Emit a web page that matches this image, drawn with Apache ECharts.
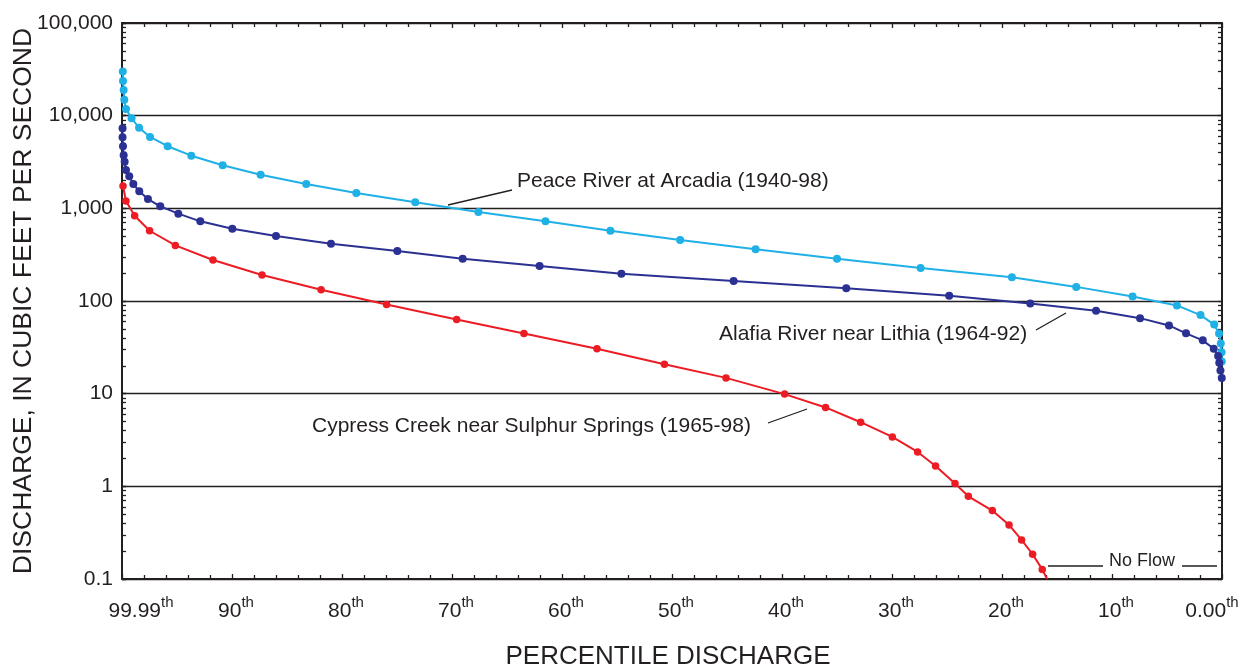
<!DOCTYPE html>
<html>
<head>
<meta charset="utf-8">
<script src="https://cdn.jsdelivr.net/npm/echarts@6/dist/echarts.min.js"></script>
<style>
html,body{margin:0;padding:0;background:#fff;}
#chart{width:1250px;height:669px;}
</style>
</head>
<body>
<div id="chart"></div>
<script>
// ---- Data ----
var xTickValues = [0, 10, 20, 30, 40, 50, 60, 70, 80, 90, 100];
var yTickLabels = ['0.1', '1', '10', '100', '1,000', '10,000', '100,000'];

var peacePct = [99.93, 99.91, 99.85, 99.79, 99.64, 99.13, 98.45, 97.45, 95.85, 93.7, 90.85, 87.4, 83.25, 78.7, 73.34, 67.6, 61.5, 55.6, 49.26, 42.4, 35.0, 27.4, 19.1, 13.25, 8.13, 4.1, 1.95, 0.71, 0.27, 0.11, 0.04, 0.02];
var peaceQ = [29900, 23700, 18970, 14890, 11810, 9370, 7410, 5890, 4680, 3700, 2915, 2305, 1830, 1462, 1161, 912, 724, 573, 455, 361, 286, 227, 180, 142, 112, 89.6, 70.4, 55.6, 44.7, 34.8, 27.9, 22.2];

var alafiaPct = [99.95, 99.95, 99.91, 99.85, 99.76, 99.64, 99.34, 98.97, 98.43, 97.64, 96.52, 94.88, 92.88, 89.97, 86.0, 81.0, 74.97, 69.03, 62.04, 54.6, 44.4, 34.16, 24.8, 17.43, 11.45, 7.45, 4.82, 3.27, 1.75, 0.75, 0.35, 0.25, 0.14, 0.02];
var alafiaQ = [7310, 5850, 4680, 3730, 3185, 2592, 2218, 1830, 1527, 1260, 1051, 876, 724, 603, 503, 415, 346, 286, 238, 197, 164, 137, 114, 94.2, 78.4, 65.3, 54.5, 44.8, 37.6, 30.5, 25.5, 21.5, 17.8, 14.8];

var cypressPct = [99.91, 99.64, 98.85, 97.49, 95.15, 91.73, 87.27, 81.9, 75.95, 69.58, 63.46, 56.82, 50.69, 45.09, 39.76, 36.04, 32.85, 29.97, 27.67, 26.04, 24.27, 23.06, 20.88, 19.36, 18.22, 17.22, 16.34, 15.9];
var cypressQ = [1742, 1200, 832, 573, 398, 277, 191, 132, 91.9, 63.2, 44.7, 30.5, 20.8, 14.8, 9.89, 7.10, 4.92, 3.41, 2.35, 1.66, 1.07, 0.781, 0.547, 0.383, 0.264, 0.185, 0.127, 0.1];

var seriesNames = ['Peace River at Arcadia (1940-98)', 'Alafia River near Lithia (1964-92)', 'Cypress Creek near Sulphur Springs (1965-98)'];

// ---- helpers ----
function zip(a, b) { return a.map(function (v, i) { return [v, b[i]]; }); }
var yMinorTicks = [];
for (var e = -1; e <= 4; e++) {
  for (var m = 1; m <= 9; m++) yMinorTicks.push(Number((m * Math.pow(10, e)).toPrecision(6)));
}
yMinorTicks.push(100000);

var FONT = '"Liberation Sans", Arial, Helvetica, sans-serif';
var INK = '#231f20';

var cypressData = zip(cypressPct, cypressQ).map(function (d, i, arr) {
  return i === arr.length - 1 ? { value: d, symbol: 'none' } : d;
});

var chart = echarts.init(document.getElementById('chart'), null, { renderer: 'canvas' });

var xCommon = {
  type: 'value', min: 0, max: 100, interval: 10, inverse: true,
  axisLine: { show: true, onZero: false, lineStyle: { color: INK, width: 2 } },
  axisTick: { show: true, inside: true, length: 5, lineStyle: { color: INK, width: 1.3 } },
  minorTick: { show: true, splitNumber: 5, length: 4, lineStyle: { color: INK, width: 1.3 } },
  splitLine: { show: false }
};
var yCommon = {
  type: 'log', logBase: 10, min: 0.1, max: 100000
};

var option = {
  backgroundColor: '#ffffff',
  animation: false,
  grid: { left: 122, right: 28, top: 23, bottom: 90, containLabel: false, outerBoundsMode: 'none' },
  xAxis: [
    Object.assign({}, xCommon, {
      position: 'bottom',
      name: 'PERCENTILE DISCHARGE',
      nameLocation: 'middle',
      nameGap: 65,
      nameTextStyle: { fontFamily: FONT, fontSize: 26, color: INK, padding: [0, 8, 0, 0] },
      axisLabel: {
        show: true, margin: 16, fontFamily: FONT, color: INK,
        customValues: xTickValues,
        formatter: function (v) {
          if (v === 100) return '{s|}{n|99.99}{t|th}';
          if (v === 0) return '{n|0.00}{t|th}{e|}';
          return '{p|}{n|' + v + '}{t|th}';
        },
        rich: {
          n: { fontFamily: FONT, fontSize: 21, color: INK, lineHeight: 27, verticalAlign: 'bottom' },
          t: { fontFamily: FONT, fontSize: 15, color: INK, lineHeight: 15, verticalAlign: 'top' },
          s: { width: 38, height: 10 },
          e: { width: 20, height: 10 },
          p: { width: 8, height: 10 }
        }
      }
    }),
    Object.assign({}, xCommon, {
      position: 'top',
      axisLabel: { show: false }
    })
  ],
  yAxis: [
    Object.assign({}, yCommon, {
      position: 'left',
      name: 'DISCHARGE, IN CUBIC FEET PER SECOND',
      nameLocation: 'middle', nameGap: 85, nameRotate: 90, nameMoveOverlap: false,
      nameTextStyle: { fontFamily: FONT, fontSize: 26.5, color: INK },
      axisLine: { show: true, onZero: false, lineStyle: { color: INK, width: 2 } },
      axisTick: { show: true, inside: true, length: 4, lineStyle: { color: INK, width: 1.3 } },
      axisLabel: {
        show: true, margin: 9, fontFamily: FONT, fontSize: 21, color: INK,
        formatter: function (v) {
          var idx = Math.round(Math.log10(v)) + 1;
          return yTickLabels[idx] !== undefined ? yTickLabels[idx] : String(v);
        }
      },
      splitLine: { show: true, lineStyle: { color: INK, width: 1.3 } }
    }),
    Object.assign({}, yCommon, {
      position: 'right',
      axisLine: { show: true, onZero: false, lineStyle: { color: INK, width: 2 } },
      axisTick: { show: true, inside: true, length: 4, customValues: yMinorTicks, lineStyle: { color: INK, width: 1.3 } },
      axisLabel: { show: false },
      splitLine: { show: false }
    }),
    Object.assign({}, yCommon, {
      position: 'left',
      axisLine: { show: false, onZero: false },
      axisTick: { show: true, inside: true, length: 4, customValues: yMinorTicks, lineStyle: { color: INK, width: 1.3 } },
      axisLabel: { show: false },
      splitLine: { show: false }
    })
  ],
  series: [
    {
      name: seriesNames[0], type: 'line', xAxisIndex: 0, yAxisIndex: 0,
      data: zip(peacePct, peaceQ),
      symbol: 'circle', symbolSize: 8, showSymbol: true,
      lineStyle: { color: '#1fb0e6', width: 2 },
      itemStyle: { color: '#1fb0e6' },
      z: 3
    },
    {
      name: seriesNames[1], type: 'line', xAxisIndex: 0, yAxisIndex: 0,
      data: zip(alafiaPct, alafiaQ),
      symbol: 'circle', symbolSize: 8, showSymbol: true,
      lineStyle: { color: '#2b3192', width: 2 },
      itemStyle: { color: '#2b3192' },
      z: 4
    },
    {
      name: seriesNames[2], type: 'line', xAxisIndex: 0, yAxisIndex: 0,
      data: cypressData,
      symbol: 'circle', symbolSize: 7.5, showSymbol: true,
      lineStyle: { color: '#ec1c24', width: 2 },
      itemStyle: { color: '#ec1c24' },
      z: 5
    }
  ],
  graphic: [
    { type: 'text', left: 517, top: 171, style: { text: seriesNames[0], font: '21px ' + FONT, fill: INK } },
    { type: 'line', shape: { x1: 448, y1: 205, x2: 512, y2: 190 }, style: { stroke: INK, lineWidth: 1.3 } },
    { type: 'text', left: 719, top: 324, style: { text: seriesNames[1], font: '21px ' + FONT, fill: INK } },
    { type: 'line', shape: { x1: 1036, y1: 330, x2: 1066, y2: 313 }, style: { stroke: INK, lineWidth: 1.3 } },
    { type: 'text', left: 312, top: 416, style: { text: seriesNames[2], font: '21px ' + FONT, fill: INK } },
    { type: 'line', shape: { x1: 768, y1: 423, x2: 807, y2: 409 }, style: { stroke: INK, lineWidth: 1.3 } },
    { type: 'text', left: 1109, top: 552, style: { text: 'No Flow', font: '18px ' + FONT, fill: INK } },
    { type: 'line', shape: { x1: 1048, y1: 566, x2: 1103, y2: 566 }, style: { stroke: INK, lineWidth: 1.3 } },
    { type: 'line', shape: { x1: 1182, y1: 566, x2: 1217, y2: 566 }, style: { stroke: INK, lineWidth: 1.3 } }
  ]
};
chart.setOption(option);
</script>
</body>
</html>
